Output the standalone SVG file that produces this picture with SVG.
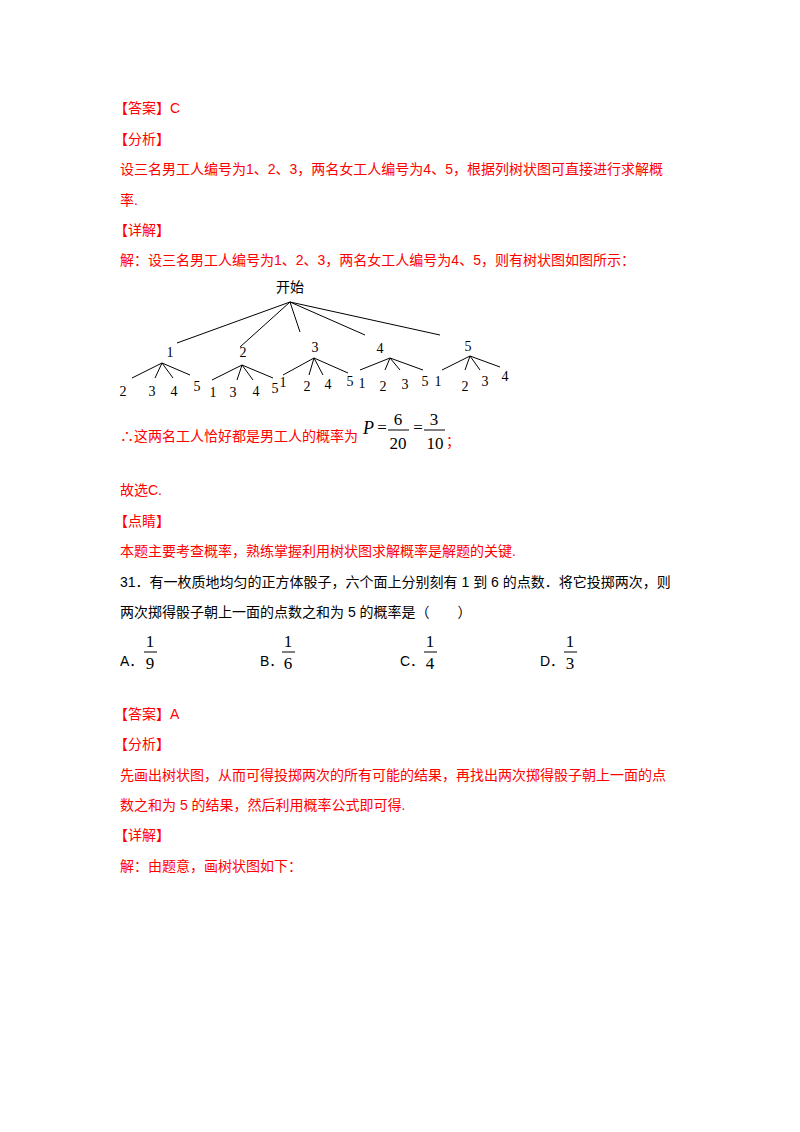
<svg xmlns="http://www.w3.org/2000/svg" width="800" height="1132" viewBox="0 0 800 1132">
<style>
.r{fill:#ff0000;font-family:"Liberation Sans","Noto Sans CJK SC",sans-serif;font-size:14px}
.b{fill:#000;font-family:"Liberation Sans","Noto Sans CJK SC",sans-serif;font-size:14px}
.t{fill:#000;font-family:"Liberation Serif","Noto Sans CJK SC",serif;font-size:14px;text-anchor:middle}
.f{fill:#000;font-family:"Liberation Serif",serif;font-size:17px;text-anchor:middle}
#edges line{stroke:#000;stroke-width:1}
</style>
<rect width="800" height="1132" fill="#fff"/>
<text class="r" x="114" y="113">【答案】C</text>
<text class="r" x="114" y="144">【分析】</text>
<text class="r" x="120" y="174">设三名男工人编号为1、2、3，两名女工人编号为4、5，根据列树状图可直接进行求解概</text>
<text class="r" x="120" y="205">率.</text>
<text class="r" x="114" y="235">【详解】</text>
<text class="r" x="120" y="265">解：设三名男工人编号为1、2、3，两名女工人编号为4、5，则有树状图如图所示：</text>
<g id="edges">
<line x1="290" y1="302" x2="177" y2="343"/><line x1="290" y1="302" x2="240" y2="347"/><line x1="290" y1="302" x2="300" y2="332"/><line x1="290" y1="302" x2="365" y2="335"/><line x1="290" y1="302" x2="440" y2="335"/>
<line x1="162" y1="363" x2="132" y2="378"/><line x1="162" y1="363" x2="155" y2="378"/><line x1="162" y1="363" x2="173" y2="378"/><line x1="162" y1="363" x2="190" y2="375"/>
<line x1="242" y1="365" x2="212" y2="380"/><line x1="242" y1="365" x2="237" y2="380"/><line x1="242" y1="365" x2="253" y2="380"/><line x1="242" y1="365" x2="273" y2="378"/>
<line x1="314" y1="358" x2="283" y2="375"/><line x1="314" y1="358" x2="309" y2="375"/><line x1="314" y1="358" x2="323" y2="375"/><line x1="314" y1="358" x2="348" y2="373"/>
<line x1="390" y1="358" x2="360" y2="370"/><line x1="390" y1="358" x2="385" y2="370"/><line x1="390" y1="358" x2="400" y2="370"/><line x1="390" y1="358" x2="423" y2="370"/>
<line x1="470" y1="356" x2="442" y2="370"/><line x1="470" y1="356" x2="465" y2="370"/><line x1="470" y1="356" x2="480" y2="370"/><line x1="470" y1="356" x2="500" y2="367"/>
</g>
<g id="root"><text class="t" x="290" y="292">开始</text></g>
<g id="n1"><text class="t" x="170" y="357">1</text><text class="t" x="123" y="396">2</text><text class="t" x="152" y="396">3</text><text class="t" x="174" y="396">4</text><text class="t" x="197" y="391">5</text></g>
<g id="n2"><text class="t" x="243" y="357">2</text><text class="t" x="213" y="397">1</text><text class="t" x="233" y="397">3</text><text class="t" x="256" y="396">4</text><text class="t" x="275" y="393">5</text></g>
<g id="n3"><text class="t" x="315" y="352">3</text><text class="t" x="283" y="387">1</text><text class="t" x="307" y="391">2</text><text class="t" x="328" y="389">4</text><text class="t" x="350" y="386">5</text></g>
<g id="n4"><text class="t" x="380" y="353">4</text><text class="t" x="362" y="388">1</text><text class="t" x="383" y="391">2</text><text class="t" x="405" y="389">3</text><text class="t" x="425" y="386">5</text></g>
<g id="n5"><text class="t" x="468" y="351">5</text><text class="t" x="438" y="386">1</text><text class="t" x="465" y="391">2</text><text class="t" x="485" y="386">3</text><text class="t" x="505" y="381">4</text></g>
<text class="r" x="120" y="441">∴这两名工人恰好都是男工人的概率为</text>
<text x="363" y="434" style="font-family:'Liberation Serif',serif;font-size:18px;font-style:italic">P</text>
<text class="f" x="382" y="433">=</text>
<text class="f" x="398" y="425">6</text><line x1="388" y1="430" x2="409" y2="430" stroke="#000"/><text class="f" x="398" y="449">20</text>
<text class="f" x="418" y="433">=</text>
<text class="f" x="434" y="425">3</text><line x1="424" y1="430" x2="445" y2="430" stroke="#000"/><text class="f" x="435" y="449">10</text>
<text class="r" x="446" y="446">；</text>
<text class="r" x="120" y="495">故选C.</text>
<text class="r" x="114" y="526">【点睛】</text>
<text class="r" x="120" y="556">本题主要考查概率，熟练掌握利用树状图求解概率是解题的关键.</text>
<text class="b" x="120" y="587">31．有一枚质地均匀的正方体骰子，六个面上分别刻有 1 到 6 的点数．将它投掷两次，则</text>
<text class="b" x="120" y="617">两次掷得骰子朝上一面的点数之和为 5 的概率是（　　）</text>
<text class="b" x="120" y="666">A．</text><text class="f" x="150" y="647">1</text><line x1="144" y1="652" x2="157" y2="652" stroke="#000"/><text class="f" x="150" y="669">9</text>
<text class="b" x="260" y="666">B．</text><text class="f" x="288" y="647">1</text><line x1="282" y1="652" x2="295" y2="652" stroke="#000"/><text class="f" x="288" y="669">6</text>
<text class="b" x="400" y="666">C．</text><text class="f" x="430" y="647">1</text><line x1="424" y1="652" x2="437" y2="652" stroke="#000"/><text class="f" x="430" y="669">4</text>
<text class="b" x="540" y="666">D．</text><text class="f" x="570" y="647">1</text><line x1="564" y1="652" x2="577" y2="652" stroke="#000"/><text class="f" x="570" y="669">3</text>
<text class="r" x="114" y="719">【答案】A</text>
<text class="r" x="114" y="749">【分析】</text>
<text class="r" x="120" y="780">先画出树状图，从而可得投掷两次的所有可能的结果，再找出两次掷得骰子朝上一面的点</text>
<text class="r" x="120" y="810">数之和为 5 的结果，然后利用概率公式即可得.</text>
<text class="r" x="114" y="840">【详解】</text>
<text class="r" x="120" y="871">解：由题意，画树状图如下：</text>
</svg>
